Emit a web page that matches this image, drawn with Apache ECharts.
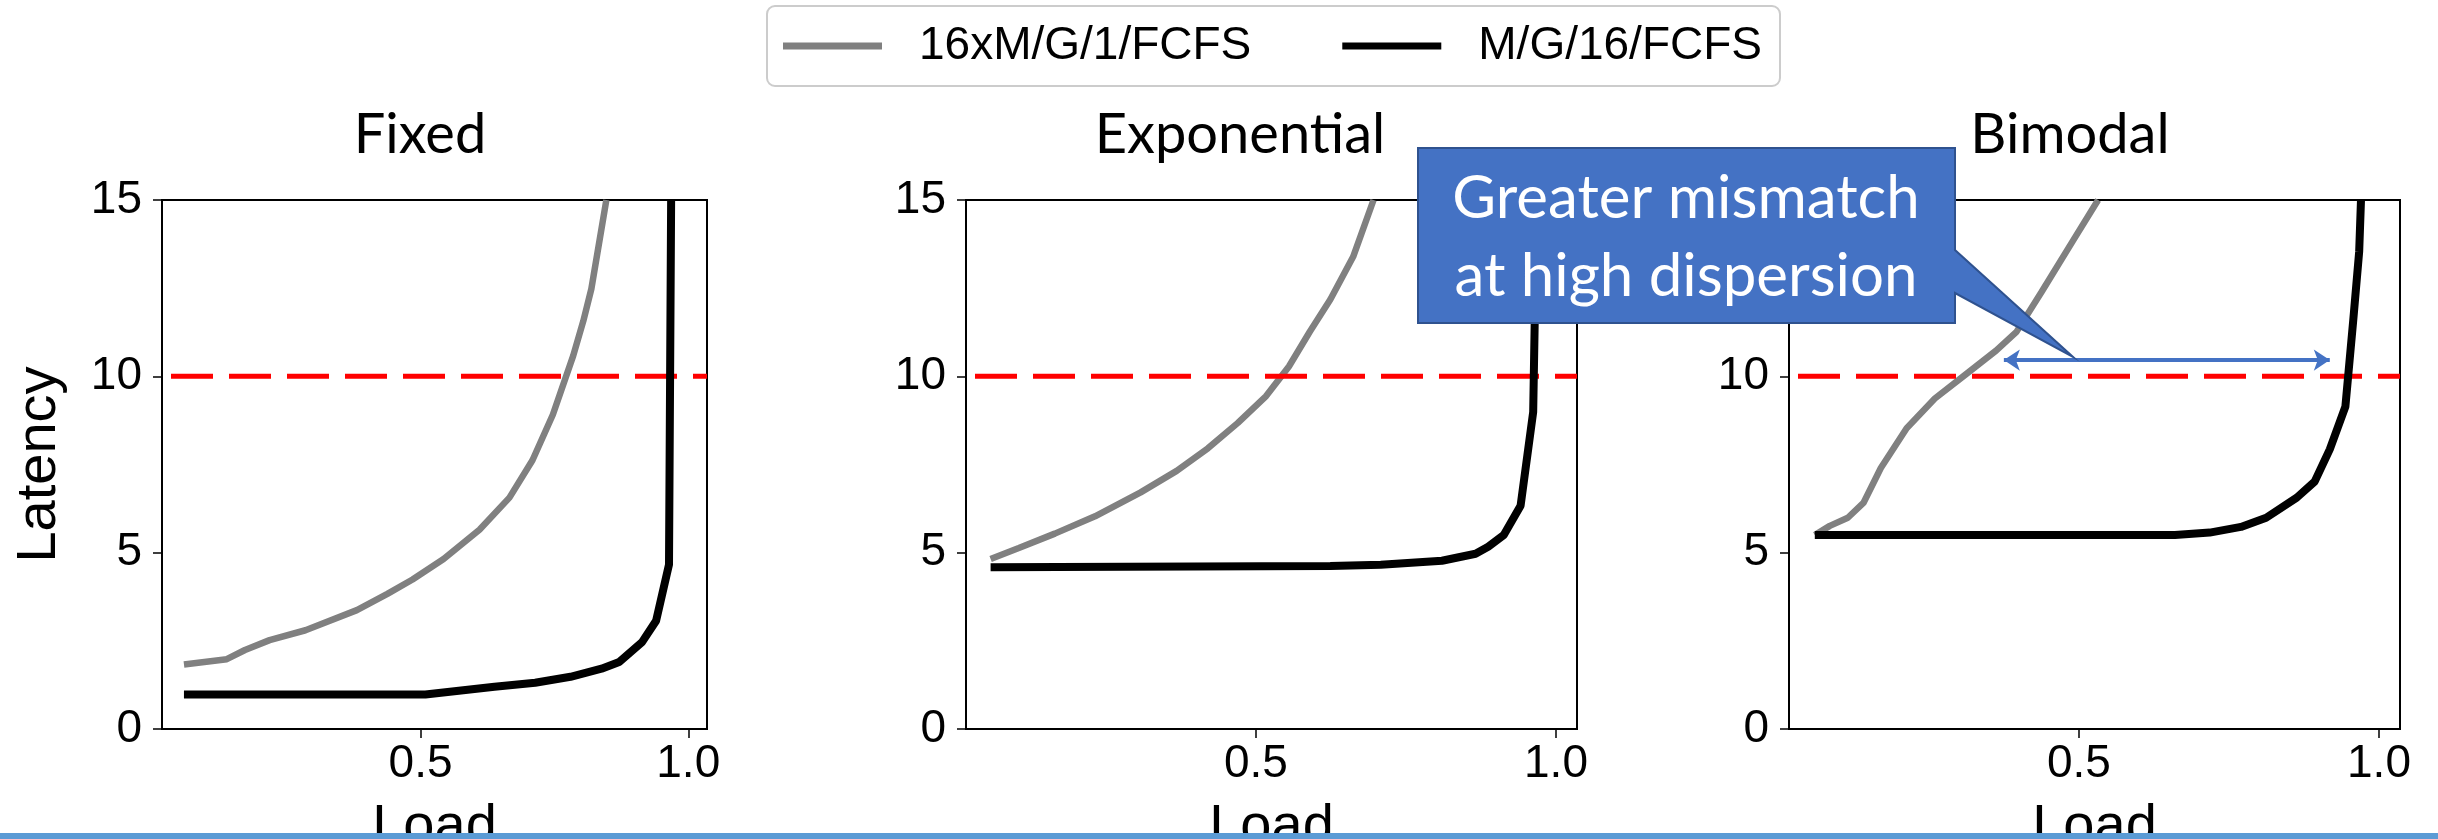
<!DOCTYPE html>
<html>
<head>
<meta charset="utf-8">
<title>Latency vs Load</title>
<script src="https://cdn.jsdelivr.net/npm/echarts@6/dist/echarts.min.js"></script>
<style>
  html, body { margin: 0; padding: 0; background: #fff; }
  #main { width: 2438px; height: 839px; }
</style>
</head>
<body>
<div id="main"></div>
<script>
// values
var panelTitles = ['Fixed', 'Exponential', 'Bimodal'];
var xTicks = [0.5, 1.0];
var threshold = 10;

var fixedGrayX = [0.058, 0.138, 0.172, 0.218, 0.285, 0.381, 0.438, 0.485, 0.543, 0.61, 0.666, 0.709, 0.747, 0.785, 0.804, 0.819, 0.847];
var fixedGrayY = [1.83, 1.98, 2.24, 2.52, 2.8, 3.37, 3.83, 4.24, 4.82, 5.65, 6.56, 7.62, 8.91, 10.58, 11.57, 12.48, 15.0];
var fixedBlackX = [0.058, 0.509, 0.638, 0.714, 0.78, 0.838, 0.871, 0.914, 0.94, 0.964, 0.968];
var fixedBlackY = [0.98, 0.98, 1.2, 1.31, 1.48, 1.71, 1.9, 2.47, 3.07, 4.66, 15];

var expGrayX = [0.058, 0.105, 0.165, 0.232, 0.308, 0.368, 0.42, 0.47, 0.517, 0.555, 0.59, 0.624, 0.662, 0.696];
var expGrayY = [4.82, 5.13, 5.54, 6.03, 6.71, 7.32, 7.96, 8.68, 9.44, 10.28, 11.27, 12.18, 13.39, 15];
var expBlackX = [0.058, 0.624, 0.708, 0.81, 0.866, 0.887, 0.913, 0.941, 0.962, 0.968];
var expBlackY = [4.59, 4.62, 4.66, 4.77, 4.97, 5.17, 5.5, 6.33, 8.99, 15];

var bimGrayX = [0.06, 0.085, 0.115, 0.141, 0.17, 0.213, 0.26, 0.311, 0.362, 0.396, 0.438, 0.49, 0.532];
var bimGrayY = [5.5, 5.76, 5.99, 6.41, 7.4, 8.53, 9.37, 10.05, 10.73, 11.26, 12.4, 13.84, 15];
var bimBlackX = [0.06, 0.66, 0.718, 0.77, 0.812, 0.863, 0.893, 0.918, 0.944, 0.957, 0.967, 0.97];
var bimBlackY = [5.5, 5.5, 5.57, 5.73, 5.99, 6.56, 7.02, 7.93, 9.14, 11.57, 13.54, 15];

// arrow annotation on the bimodal panel (data coords)
var arrowX = [0.375, 0.918];
var arrowY = 10.46;

var AXFONT = '"Liberation Sans", Arial, sans-serif';
var TFONT = 'Lato, "Open Sans", sans-serif';

function pairs(xs, ys) {
    var out = [];
    for (var i = 0; i < xs.length; i++) out.push([xs[i], ys[i]]);
    return out;
}

var chart = echarts.init(document.getElementById('main'));

var grids = [
    { left: 162, top: 200, width: 545, height: 529 },
    { left: 966, top: 200, width: 611, height: 529 },
    { left: 1789, top: 200, width: 611, height: 529 }
];
var titleX = [420, 1240, 2070];

var gridOpt = [], xAxes = [], yAxes = [], series = [], graphics = [];
var curves = [
    [fixedGrayX, fixedGrayY, fixedBlackX, fixedBlackY],
    [expGrayX, expGrayY, expBlackX, expBlackY],
    [bimGrayX, bimGrayY, bimBlackX, bimBlackY]
];

for (var i = 0; i < 3; i++) {
    gridOpt.push({
        left: grids[i].left, top: grids[i].top, width: grids[i].width, height: grids[i].height,
        show: true, borderColor: '#000', borderWidth: 2, backgroundColor: 'transparent',
        outerBoundsMode: 'none'
    });
    xAxes.push({
        gridIndex: i, type: 'value', min: 0.017, max: 1.035,
        name: 'Load', nameLocation: 'middle', nameGap: 71,
        nameTextStyle: { fontFamily: AXFONT, fontSize: 56, color: '#000' },
        axisLine: { show: true, onZero: false, lineStyle: { color: '#000', width: 2 } },
        axisTick: { show: true, inside: false, length: 9, customValues: xTicks, lineStyle: { color: '#000', width: 1.5 } },
        axisLabel: {
            show: true, margin: 12, customValues: xTicks, color: '#000',
            fontFamily: AXFONT, fontSize: 46,
            formatter: function (v) { return v.toFixed(1); }
        },
        splitLine: { show: false }
    });
    yAxes.push({
        gridIndex: i, type: 'value', min: 0, max: 15, interval: 5,
        name: i === 0 ? 'Latency' : '', nameLocation: 'middle', nameGap: 94, nameRotate: 90,
        nameTextStyle: { fontFamily: AXFONT, fontSize: 56, color: '#000' },
        axisLine: { show: true, lineStyle: { color: '#000', width: 2 } },
        axisTick: { show: true, inside: false, length: 9, lineStyle: { color: '#000', width: 1.5 } },
        axisLabel: { show: true, margin: 20, color: '#000', fontFamily: AXFONT, fontSize: 46 },
        splitLine: { show: false }
    });
    var c = curves[i];
    series.push({
        name: '16xM/G/1/FCFS', type: 'line', xAxisIndex: i, yAxisIndex: i,
        data: pairs(c[0], c[1]), showSymbol: false, symbol: 'none', clip: true,
        color: '#808080', lineStyle: { color: '#808080', width: 6.5 }, z: 2
    });
    var thr = {
        name: 'threshold', type: 'line', xAxisIndex: i, yAxisIndex: i,
        data: [[0.017, threshold], [1.035, threshold]], symbol: 'none', silent: true,
        lineStyle: { color: '#ff0000', width: 5, type: [42, 16], dashOffset: -9 }, z: 3
    };
    if (i === 2) {
        thr.markLine = {
            silent: true, symbol: ['arrow', 'arrow'], symbolSize: [16, 16],
            label: { show: false },
            lineStyle: { color: '#4472C4', width: 4, type: 'solid' },
            data: [[{ coord: [arrowX[0], arrowY] }, { coord: [arrowX[1], arrowY] }]]
        };
    }
    series.push(thr);
    series.push({
        name: 'M/G/16/FCFS', type: 'line', xAxisIndex: i, yAxisIndex: i,
        data: pairs(c[2], c[3]), showSymbol: false, symbol: 'none', clip: true,
        color: '#000000', lineStyle: { color: '#000000', width: 8 }, z: 4
    });
    graphics.push({
        type: 'text', x: titleX[i], y: 135, z: 50,
        style: { text: panelTitles[i], fill: '#000', font: '56px ' + TFONT, textAlign: 'center', textVerticalAlign: 'middle' }
    });
}

// callout box with tail
graphics.push({
    type: 'polygon', z: 100,
    shape: { points: [[1418, 148], [1955, 148], [1955, 250], [2073, 357], [1955, 293], [1955, 323], [1418, 323]] },
    style: { fill: '#4472C4', stroke: '#2F528F', lineWidth: 2 }
});
graphics.push({
    type: 'text', x: 1686, y: 199, z: 101,
    style: { text: 'Greater mismatch', fill: '#fff', font: '60px ' + TFONT, textAlign: 'center', textVerticalAlign: 'middle' }
});
graphics.push({
    type: 'text', x: 1686, y: 277, z: 101,
    style: { text: 'at high dispersion', fill: '#fff', font: '60px ' + TFONT, textAlign: 'center', textVerticalAlign: 'middle' }
});
// thin blue strip at the bottom edge
graphics.push({
    type: 'rect', z: 200, shape: { x: 0, y: 833, width: 2438, height: 6 },
    style: { fill: '#5B9BD5' }
});

var option = {
    backgroundColor: '#fff',
    animation: false,
    legend: {
        data: ['16xM/G/1/FCFS', 'M/G/16/FCFS'],
        left: 767, top: 6,
        orient: 'horizontal',
        icon: 'rect', itemWidth: 99, itemHeight: 7, itemGap: 91,
        padding: [17, 18, 17, 16],
        backgroundColor: '#fff', borderColor: '#cccccc', borderWidth: 2, borderRadius: 8,
        textStyle: { fontFamily: AXFONT, fontSize: 46, color: '#000', padding: [0, 0, 0, 32] }
    },
    grid: gridOpt,
    xAxis: xAxes,
    yAxis: yAxes,
    series: series,
    graphic: graphics
};
chart.setOption(option);
</script>
</body>
</html>
